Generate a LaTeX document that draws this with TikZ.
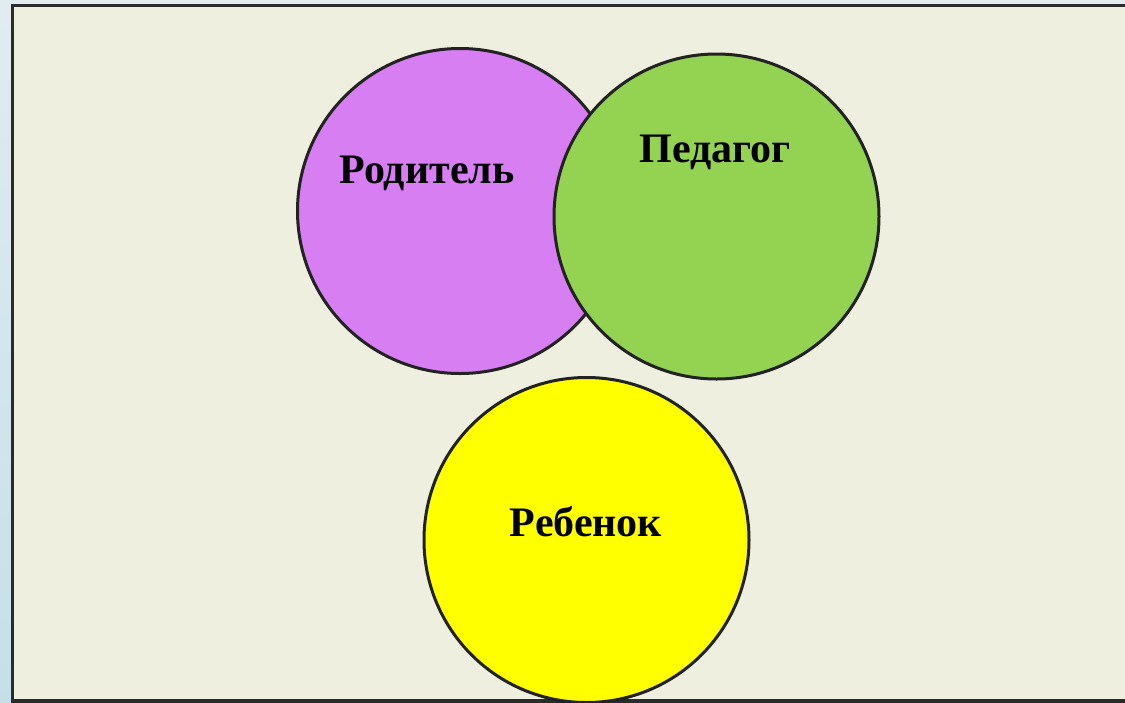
\documentclass[tikz,border=0pt]{standalone}
\usepackage{fontspec}
\setmainfont{Liberation Serif}
\usepackage{tikz}
\usetikzlibrary{positioning}
\definecolor{SideBlue}{RGB}{197,223,233}
\definecolor{TopBlue}{RGB}{225,236,240}
\definecolor{PaperBg}{RGB}{239,239,224}
\definecolor{FrameDark}{RGB}{43,43,43}
\definecolor{ParentPink}{RGB}{214,126,242}
\definecolor{TeacherGreen}{RGB}{148,210,82}
\definecolor{ChildYellow}{RGB}{255,255,0}

\begin{document}
\begin{tikzpicture}[
  x=1pt, y=-1pt,
  font=\fontsize{42}{50}\selectfont\bfseries,
  ring/.style={circle, draw=FrameDark!80!black, line width=3pt, minimum size=325pt, inner sep=0pt},
  word/.style={anchor=base, inner sep=0pt},
]
\useasboundingbox (0,0) rectangle (1125,702);
\shade[top color=TopBlue, bottom color=SideBlue] (0,0) rectangle (1125,702);
\draw[FrameDark, line width=3.5pt, fill=PaperBg] (12.5,5.5) rectangle (1135,701);

\node[ring, fill=ParentPink] (parent) at (460,211) {};
\node[ring, fill=TeacherGreen] (teacher) at (716.5,216.5) {};
\node[ring, fill=ChildYellow] (child) at (586.5,540) {};

\node[word] (parentlbl) at (427,183) {Родитель};
\node[word] (teacherlbl) at (715,162) {Педагог};
\node[word] (childlbl) at (586,536) {Ребенок};
\end{tikzpicture}
\end{document}
